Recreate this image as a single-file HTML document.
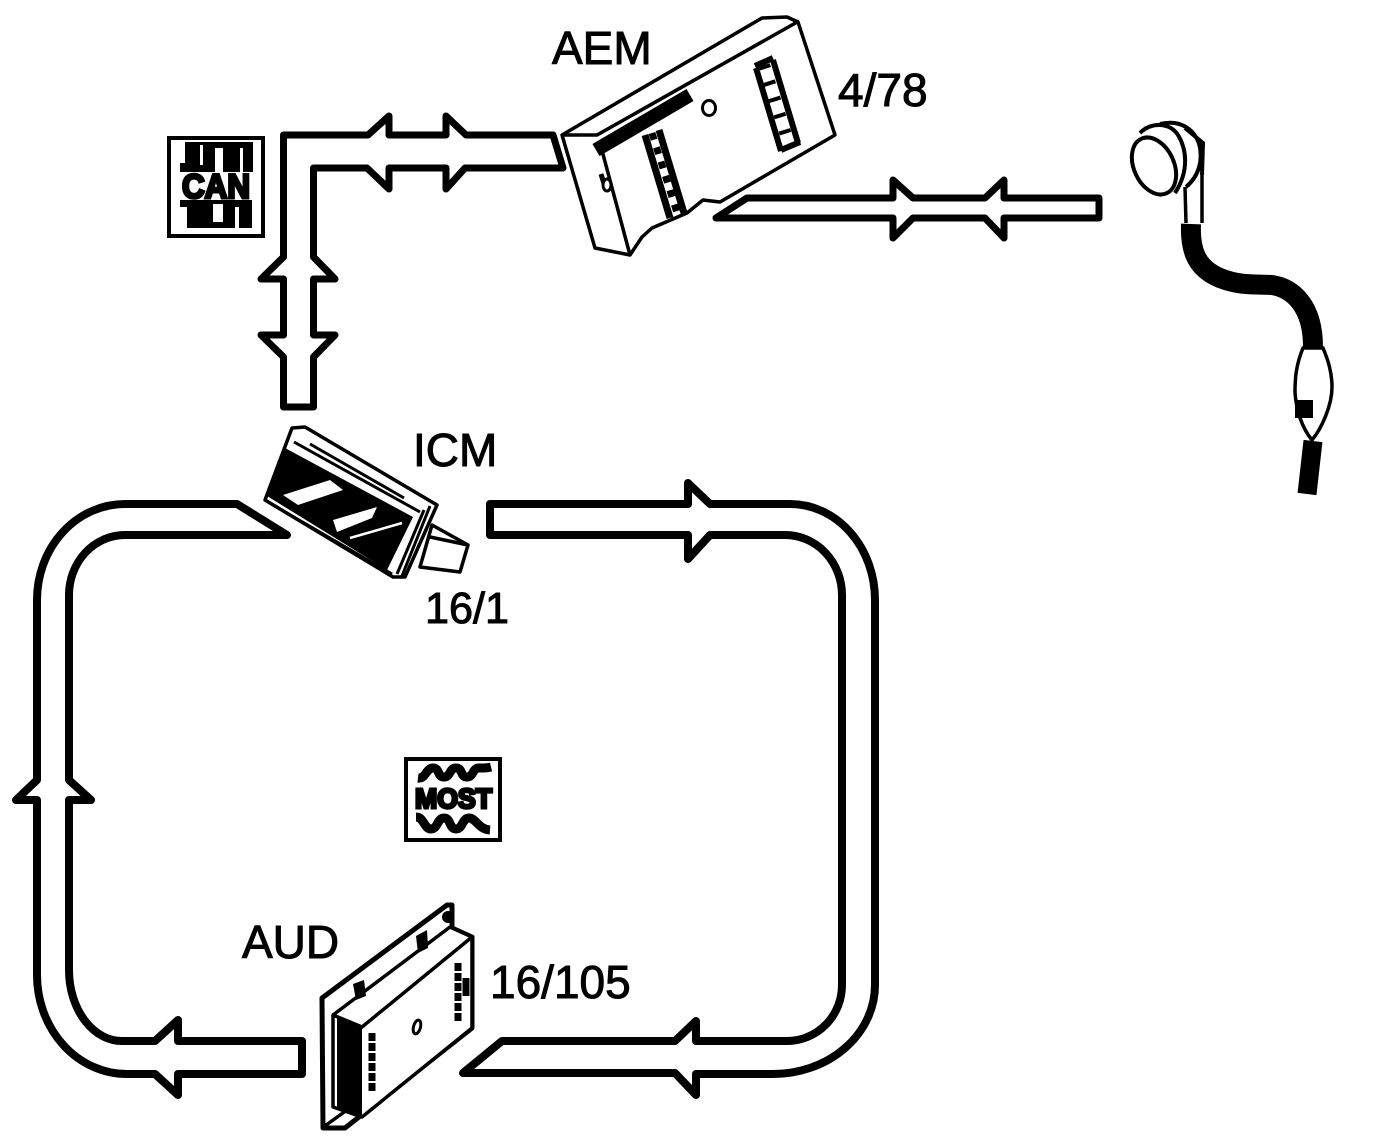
<!DOCTYPE html>
<html><head><meta charset="utf-8"><style>
html,body{margin:0;padding:0;background:#fff}
svg{display:block}
text{font-family:"Liberation Sans",sans-serif;font-size:46px;fill:#000;stroke:#000;stroke-width:1}
.c{fill:none;stroke:#000;stroke-width:8;stroke-linejoin:round}
.l{fill:none;stroke:#000;stroke-width:3.5}
.w{fill:#fff;stroke:#000;stroke-width:3.5;stroke-linejoin:round}
</style></head><body>
<svg width="1376" height="1148" viewBox="0 0 1376 1148" xmlns="http://www.w3.org/2000/svg">
<rect width="1376" height="1148" fill="#fff"/>

<!-- CAN connector -->
<path class="c" style="stroke-width:7" d="M283.5 407V357L261 335H283.5V279H261L283.5 257V135H368L389 116V135H446V116L466 135H553L563 168H465L446 189V168H389V189L367 168H313.5V257L335 279H313.5V335H335L313.5 357V407Z"/>
<!-- Right connector -->
<path class="c" style="stroke-width:7" d="M716 218L747 198H893V180L913 198H985L1004 180V198H1099V218H1004V238L985 218H913L893 238V218Z"/>

<!-- Loop -->
<path class="c" d="M490 504H688V483L710 504H790A85 96 0 0 1 875 600V985A102 89 0 0 1 773 1074H696V1095L675 1073H463L502 1041H675L696 1021V1041H787A55 56 0 0 0 842 985V595A57 60 0 0 0 785 535H710L688 559V535H490Z"/>
<path class="c" d="M287 535H125A56 60 0 0 0 69 595V780L91 800H69V970A53 71 0 0 0 123 1041H155L178 1020V1041H302V1074H178V1095L155 1074H127A90 99 0 0 1 37 975V800H16L37 780V600A88 96 0 0 1 125 504H237Z"/>

<!-- CAN icon -->
<rect x="169" y="138" width="94" height="98" fill="#fff" stroke="#000" stroke-width="4"/>
<rect x="185" y="142" width="68" height="30"/>
<rect x="180" y="163" width="73" height="9"/>
<rect x="200" y="145" width="3" height="20" fill="#fff"/>
<rect x="215" y="148" width="8" height="24" fill="#fff"/>
<rect x="240" y="148" width="3" height="24" fill="#fff"/>
<rect x="187" y="205" width="65" height="23"/>
<rect x="180" y="200" width="72" height="7"/>
<rect x="213" y="204" width="10" height="18" fill="#fff"/>
<rect x="235" y="207" width="4" height="21" fill="#fff"/>
<text x="182" y="198" style="font-size:34px;font-weight:bold;stroke-width:3" textLength="68" lengthAdjust="spacingAndGlyphs">CAN</text>

<!-- MOST icon -->
<rect x="406" y="759" width="94" height="81" fill="#fff" stroke="#000" stroke-width="4"/>
<path fill="none" stroke="#000" stroke-width="9" d="M418 778C426 779 426 768 433 768C440 768 437 777 444 777C451 777 449 768 456 768C463 768 460 777 467 777C474 777 472 768 479 768C486 768 487 768 491 767"/>
<path fill="none" stroke="#000" stroke-width="9" d="M416 817C424 817 424 829 431 829C438 829 437 818 444 818C451 818 449 829 456 829C463 829 462 818 469 818C476 818 478 829 490 830"/>
<text x="415" y="808" style="font-size:28px;font-weight:bold;stroke-width:3" textLength="77" lengthAdjust="spacingAndGlyphs">MOST</text>

<!-- AEM device -->
<path class="w" d="M562 135L762 18L787 17L798 22L835 135L720 202L703 200L687 213L652 228L642 237L630 255L595 248Z"/>
<path class="l" d="M562 135L597 135L799 21M600 143L630 255"/>
<path stroke="#000" stroke-width="14" fill="none" d="M596 150L690 95"/>
<path stroke="#000" stroke-width="7" fill="none" d="M645 135L670 218M659 130L684 213"/>
<path stroke="#000" stroke-width="7" stroke-dasharray="7 8" fill="none" d="M652 133L678 216"/>
<path stroke="#000" stroke-width="6" fill="none" d="M756 68L781 151M773 60L798 143M755 66L773 58M781 150L800 142"/>
<path stroke="#000" stroke-width="12" stroke-dasharray="4 13" fill="none" d="M764 65L790 148"/>
<ellipse cx="709" cy="108" rx="6.5" ry="7.5" fill="#fff" stroke="#000" stroke-width="3"/>
<path stroke="#000" stroke-width="5" fill="none" d="M601 174L606 190"/>
<ellipse cx="607" cy="185" rx="4" ry="6" fill="#fff" stroke="#000" stroke-width="3"/>

<!-- ICM device -->
<path class="w" d="M432 525L468 545L460 572L420 567Z"/>
<path class="l" d="M430 537L468 545"/>
<path class="w" d="M265 500L292 428L305 427L437 505L405 577L393 577Z"/>
<path fill="#000" d="M285 448L413 517L387 570L267 496Z"/>
<path class="l" style="stroke-width:3" d="M294 442L420 512M310 444L404 498M268 502L392 574"/>
<path class="l" style="stroke-width:3" d="M424 510L397 574M430 506L402 576"/>
<path fill="#fff" d="M283 495L330 480L343 490L298 505Z"/>
<path fill="#fff" d="M333 520L377 507L372 518L337 532Z"/>
<path fill="none" stroke="#fff" stroke-width="2.5" d="M350 538L402 523"/>

<!-- AUD device -->
<path class="w" style="stroke-width:5" d="M322 998L447 905H452V928L472 937V1028L345 1128L323 1128Z"/>
<path fill="#fff" stroke="#000" stroke-width="3.5" stroke-linejoin="round" d="M333 1015L450 927L472 937V1028L362 1117L333 1107Z"/>
<path class="l" d="M333 1015L362 1027L472 937M322 1128L347 1110"/>
<path fill="#000" d="M337 1018L362 1027V1117L337 1107Z"/>
<path fill="#000" d="M353 984L364 980L366 996L356 1000Z M416 936L427 930L428 948L418 953Z"/>
<circle cx="448" cy="917" r="6"/>
<path stroke="#000" stroke-width="7" stroke-dasharray="8 2" fill="none" d="M458 963V1023M372 1033V1093"/>
<path stroke="#000" stroke-width="7" fill="none" d="M466 978V996"/>
<ellipse cx="417" cy="1027" rx="3.5" ry="7" transform="rotate(15 417 1027)" fill="#fff" stroke="#000" stroke-width="3"/>

<!-- Earpiece -->
<path class="l" d="M1185 187L1186 223M1202 173V223"/>
<path fill="none" stroke="#000" stroke-width="20" stroke-linejoin="round" d="M1191 224C1190 250 1196 268 1220 278C1240 286 1255 284 1272 285C1292 288 1313 305 1313 347"/>
<path fill="none" stroke="#000" stroke-width="4" d="M1140 133C1150 122 1170 122 1178 135C1186 148 1190 170 1175 193M1160 124C1185 118 1198 135 1200 148C1202 160 1200 175 1186 187M1185 128L1203 143L1202 175"/>
<ellipse cx="1154" cy="166" rx="20" ry="30" transform="rotate(-25 1154 166)" fill="#fff" stroke="#000" stroke-width="4"/>
<path fill="#fff" stroke="#000" stroke-width="3.5" d="M1303 348C1296 365 1295 378 1295 392C1296 410 1302 428 1312 440C1322 428 1332 405 1332 387C1332 372 1328 360 1323 348Z"/>
<rect x="1295" y="400" width="18" height="18"/>
<path fill="none" stroke="#000" stroke-width="19" d="M1313 441L1307 494"/>

<!-- Labels -->
<text x="552" y="64">AEM</text>
<text x="838" y="106">4/78</text>
<text x="413" y="466">ICM</text>
<text x="425" y="623" style="font-size:44px" textLength="84" lengthAdjust="spacingAndGlyphs">16/1</text>
<text x="242" y="958">AUD</text>
<text x="490" y="998">16/105</text>
</svg>
</body></html>
